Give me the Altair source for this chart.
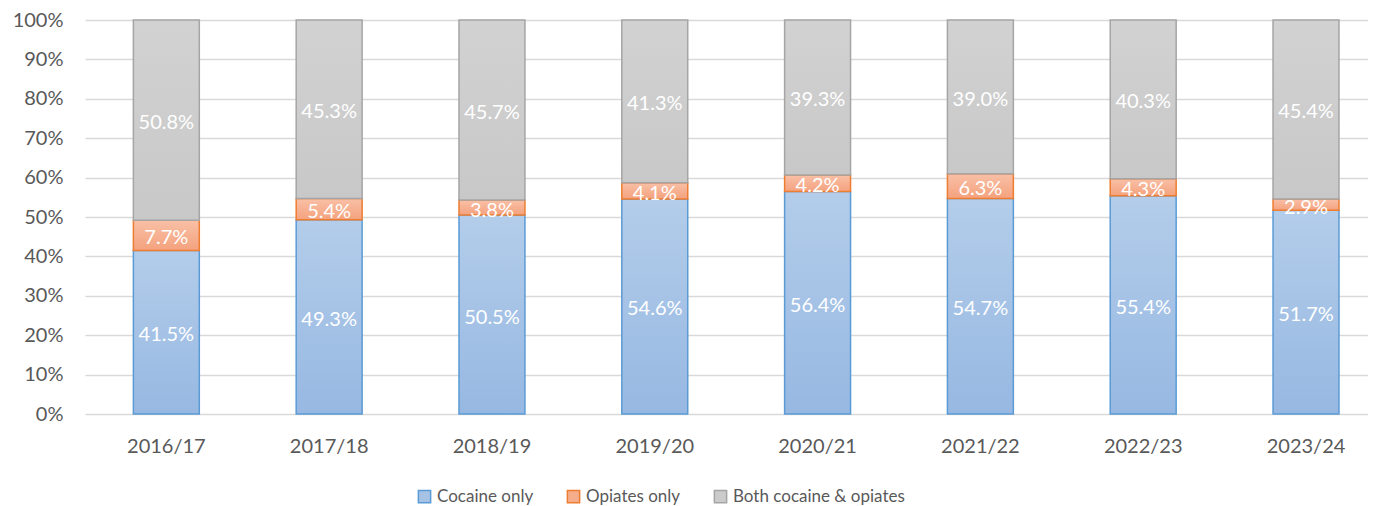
import altair as alt
import pandas as pd

years = ["2016/17", "2017/18", "2018/19", "2019/20", "2020/21", "2021/22", "2022/23", "2023/24"]
series_names = ["Cocaine only", "Opiates only", "Both cocaine & opiates"]
cocaine = [41.5, 49.3, 50.5, 54.6, 56.4, 54.7, 55.4, 51.7]
opiates = [7.7, 5.4, 3.8, 4.1, 4.2, 6.3, 4.3, 2.9]
both = [50.8, 45.3, 45.7, 41.3, 39.3, 39.0, 40.3, 45.4]

rows = []
for i, y in enumerate(years):
    for k, (name, vals) in enumerate(zip(series_names, [cocaine, opiates, both])):
        rows.append({"year": y, "series": name, "order": k, "value": vals[i]})
df = pd.DataFrame(rows)

FONT = "Lato"
fills = ["#a6c3e6", "#f6ad8c", "#cbcbcb"]
strokes = ["#5b9bd5", "#ed7d31", "#a5a5a5"]
grads = [
    ("#b3cdea", "#97b8e2"),
    ("#f9c0a6", "#f4a27e"),
    ("#d2d2d2", "#c8c8c8"),
]

xscale = alt.Scale(domain=years, paddingInner=0.595, paddingOuter=0.2377, align=0.625)
yscale = alt.Scale(domain=[0, 1])

xenc = alt.X("year:N", scale=xscale, sort=years,
             axis=alt.Axis(title=None, labelAngle=0, ticks=False, domain=False,
                           labelPadding=22, labelFontSize=20, labelColor="#595959",
                           labelFont=FONT, grid=False))
yaxis = alt.Axis(title=None, values=[i / 10 for i in range(11)], format=".0%",
                 ticks=False, domain=False, labelPadding=22, labelFontSize=20,
                 labelColor="#595959", labelFont=FONT, grid=True, labelOverlap=False,
                 gridColor="#d9d9d9", gridWidth=1.5)

base = alt.Chart(df).transform_stack(
    stack="value", groupby=["year"], as_=["y0", "y1"],
    sort=[alt.SortField("order", order="ascending")], offset="normalize"
).transform_calculate(
    mid="(datum.y0 + datum.y1) / 2",
    label="format(datum.value, '.1f') + '%'"
)

leg = dict(title=None, orient="none", direction="horizontal",
           legendX=331, legendY=468, symbolType="square",
           symbolSize=150, symbolOpacity=1, symbolStrokeWidth=1.5,
           labelFont=FONT, labelFontSize=17, labelColor="#595959", labelLimit=400,
           columnPadding=30, labelOffset=4)

legend_layer = base.mark_square(opacity=0, size=10).encode(
    x=xenc,
    y=alt.Y("y0:Q", scale=yscale, axis=yaxis),
    fill=alt.Fill("series:N", scale=alt.Scale(domain=series_names, range=fills),
                  legend=alt.Legend(**leg)),
    stroke=alt.Stroke("series:N", scale=alt.Scale(domain=series_names, range=strokes),
                      legend=alt.Legend(**leg)),
)

layers = [legend_layer]
for k, name in enumerate(series_names):
    g = alt.Gradient(gradient="linear", x1=0, x2=0, y1=0, y2=1,
                     stops=[alt.GradientStop(color=grads[k][0], offset=0),
                            alt.GradientStop(color=grads[k][1], offset=1)])
    layers.append(
        base.transform_filter(alt.datum.series == name).mark_bar(
            color=g, stroke=strokes[k], strokeWidth=1.5
        ).encode(x=xenc, y=alt.Y("y0:Q", scale=yscale, axis=yaxis), y2="y1:Q")
    )

layers.append(
    base.mark_text(color="white", font=FONT, fontSize=20, baseline="middle", dy=3).encode(
        x=xenc, y=alt.Y("mid:Q", scale=yscale, axis=yaxis), text="label:N"
    )
)

chart = alt.layer(*layers).properties(
    width=1283, height=394,
    autosize=alt.AutoSizeParams(type="none"),
    padding={"left": 77, "top": 12, "right": 0, "bottom": 92},
).configure_view(stroke=None)

chart.save("out.html", embed_options={"renderer": "svg", "actions": False})
